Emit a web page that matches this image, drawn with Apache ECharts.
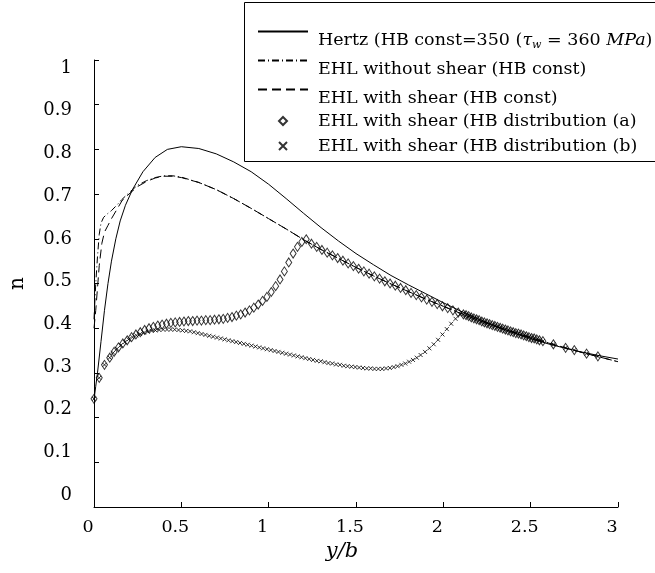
<!DOCTYPE html>
<html>
<head>
<meta charset="utf-8">
<script src="https://cdn.jsdelivr.net/npm/echarts@6/dist/echarts.min.js"></script>
<style>
html,body{margin:0;padding:0;background:#fff;}
#chart{width:655px;height:573px;}
</style>
</head>
<body>
<div id="chart"></div>
<script>
// ---- data ----
const hertzX = [0,0.01,0.02,0.04,0.06,0.08,0.10,0.125,0.15,0.18,0.22,0.28,0.35,0.42,0.5,0.6,0.7,0.8,0.9,1.0,1.1,1.2,1.3,1.4,1.5,1.6,1.7,1.8,1.9,2.0,2.1,2.2,2.3,2.4,2.5,2.6,2.7,2.8,2.9,3.0];
const hertzY = [0.24,0.27,0.30,0.37,0.44,0.50,0.55,0.60,0.64,0.675,0.71,0.75,0.782,0.80,0.806,0.802,0.79,0.772,0.75,0.722,0.69,0.657,0.625,0.595,0.567,0.542,0.518,0.497,0.477,0.457,0.438,0.421,0.405,0.39,0.377,0.365,0.355,0.346,0.338,0.331];

const noShearX = [0,0.01,0.02,0.03,0.04,0.055,0.08,0.10,0.13,0.16,0.2,0.25,0.3,0.35,0.4,0.45,0.5,0.6,0.7,0.8,0.9,1.0,1.1,1.2,1.3,1.4,1.5,1.6,1.7,1.8,1.9,2.0,2.1,2.2,2.3,2.4,2.5,2.6,2.7,2.8,2.9,3.0];
const noShearY = [0.42,0.50,0.56,0.61,0.635,0.648,0.657,0.663,0.675,0.688,0.703,0.72,0.73,0.737,0.741,0.741,0.738,0.726,0.71,0.69,0.668,0.645,0.622,0.598,0.576,0.556,0.536,0.517,0.499,0.482,0.465,0.449,0.433,0.418,0.404,0.391,0.379,0.367,0.356,0.345,0.335,0.325];

const shearX = [0,0.01,0.02,0.03,0.045,0.06,0.08,0.10,0.13,0.16,0.2,0.25,0.3,0.35,0.4,0.45,0.5,0.6,0.7,0.8,0.9,1.0,1.1,1.2,1.3,1.4,1.5,1.6,1.7,1.8,1.9,2.0,2.1,2.2,2.3,2.4,2.5,2.6,2.7,2.8,2.9,3.0];
const shearY = [0.40,0.44,0.49,0.54,0.59,0.615,0.63,0.645,0.665,0.685,0.70,0.717,0.728,0.736,0.74,0.74,0.737,0.726,0.71,0.69,0.668,0.645,0.622,0.598,0.576,0.556,0.536,0.517,0.499,0.482,0.465,0.449,0.433,0.418,0.404,0.391,0.379,0.367,0.356,0.345,0.335,0.325];

// distribution (a): diamonds
const distAX = [0,0.03,0.06,0.09,0.115,0.14,0.165,0.19,0.215,0.24,0.265,0.29,0.315,0.34,0.365,0.39,0.415,0.44,0.465,0.49,0.515,0.54,0.565,0.59,0.615,0.64,0.665,0.69,0.715,0.74,0.765,0.79,0.815,0.84,0.865,0.89,0.915,0.94,0.965,0.99,1.015,1.04,1.065,1.09,1.115,1.14,1.165,1.19,1.215,
  1.245,1.275,1.305,1.335,1.365,1.395,1.425,1.455,1.485,1.515,1.545,1.575,1.605,1.635,1.665,1.695,1.725,1.755,1.785,1.815,1.845,1.875,1.905,1.935,1.965,1.995,2.025,2.055,2.085];
const distAY = [0.242,0.289,0.318,0.334,0.347,0.357,0.366,0.373,0.38,0.386,0.391,0.396,0.40,0.403,0.406,0.408,0.41,0.412,0.413,0.414,0.415,0.416,0.416,0.417,0.417,0.418,0.418,0.419,0.42,0.421,0.423,0.425,0.428,0.431,0.435,0.44,0.446,0.453,0.461,0.47,0.481,0.494,0.509,0.527,0.547,0.567,0.582,0.593,0.599,
  0.589,0.582,0.575,0.569,0.563,0.557,0.551,0.545,0.539,0.533,0.527,0.522,0.516,0.511,0.505,0.50,0.495,0.49,0.485,0.479,0.474,0.469,0.464,0.459,0.454,0.449,0.445,0.44,0.435];

// distribution (b): crosses
const distBX = [0,0.03,0.06,0.09,0.11,0.132,0.154,0.176,0.198,0.22,0.242,0.264,0.286,0.308,0.33,0.352,0.374,0.396,0.418,0.44,0.462,0.484,0.506,0.528,0.55,0.572,0.594,0.616,0.638,0.66,0.682,0.704,0.726,0.748,0.77,0.792,0.814,0.836,0.858,0.88,0.902,0.924,0.946,0.968,0.99,1.012,1.034,1.056,1.078,1.1,1.122,1.144,1.166,1.188,1.21,1.232,1.254,1.276,1.298,1.32,1.342,1.364,1.386,1.408,1.43,1.452,1.474,1.496,1.518,1.54,1.562,1.584,1.606,1.628,1.65,1.672,1.694,1.716,1.738,1.76,1.782,1.804,1.826,1.848,1.87,1.895,1.92,1.945,1.97,1.995,2.02,2.045,2.07,2.095];
const distBY = [0.242,0.289,0.318,0.334,0.345,0.354,0.362,0.369,0.375,0.38,0.384,0.387,0.39,0.392,0.394,0.395,0.396,0.397,0.397,0.397,0.397,0.396,0.395,0.394,0.393,0.391,0.389,0.387,0.385,0.383,0.381,0.379,0.377,0.375,0.373,0.371,0.369,0.367,0.365,0.363,0.361,0.359,0.357,0.355,0.353,0.351,0.349,0.347,0.345,0.343,0.341,0.339,0.337,0.335,0.333,0.331,0.329,0.327,0.326,0.324,0.322,0.321,0.319,0.318,0.316,0.315,0.314,0.313,0.312,0.311,0.31,0.31,0.309,0.309,0.309,0.31,0.311,0.313,0.315,0.318,0.321,0.325,0.329,0.334,0.34,0.347,0.355,0.364,0.374,0.386,0.398,0.41,0.421,0.431];

// shared tail of both distributions (markers coincide)
const tailX = [2.115,2.13,2.145,2.16,2.175,2.19,2.205,2.22,2.235,2.25,2.265,2.28,2.295,2.31,2.325,2.34,2.355,2.37,2.385,2.4,2.415,2.43,2.445,2.46,2.475,2.49,2.505,2.52,2.535,2.55,2.57,2.63,2.70,2.75,2.82,2.885];
const tailY = [0.431,0.429,0.427,0.424,0.422,0.42,0.418,0.415,0.413,0.411,0.409,0.407,0.405,0.403,0.401,0.399,0.397,0.395,0.393,0.391,0.389,0.388,0.386,0.384,0.382,0.38,0.378,0.377,0.375,0.373,0.371,0.364,0.356,0.351,0.343,0.337];

const yTickValues = [0,0.1,0.2,0.3,0.4,0.5,0.6,0.7,0.8,0.9,1];
const yTickLabels = ['0','0.1','0.2','0.3','0.4','0.5','0.6','0.7','0.8','0.9','1'];

const names = [
  'Hertz (HB const=350 (τw = 360 MPa)',
  'EHL without shear (HB const)',
  'EHL with shear (HB const)',
  'EHL with shear (HB distribution (a)',
  'EHL with shear (HB distribution (b)'
];

const zip = (xs, ys) => xs.map((x, i) => [x, ys[i]]);

const FONT = 'DejaVu Serif';
const black = '#000';
const crossPath = 'path://M0,0L10,10M10,0L0,10';
const LFS = 17.5;

const richStyles = {
  n: {fontFamily: FONT, fontSize: LFS, color: black},
  i: {fontFamily: FONT, fontSize: LFS, fontStyle: 'italic', color: black},
  s: {fontFamily: FONT, fontSize: 11, fontStyle: 'italic', color: black, padding: [10, 0, 0, 0]}
};
function legendFormatter(name) {
  if (name === names[0]) {
    return '{n|Hertz (HB const=350 (}{i|τ}{s|w}{n| = 360 }{i|MPa}{n|)}';
  }
  return '{n|' + name + '}';
}

function mkLegend(idx, top, isLine) {
  return {
    data: [names[idx]],
    left: isLine ? 257 : 278,
    top: top,
    orient: 'vertical',
    itemWidth: isLine ? 50 : 8,
    itemHeight: isLine ? 14 : 8,
    selectedMode: false,
    padding: 0,
    z: 6,
    itemStyle: isLine ? {opacity: 0} : {},
    formatter: legendFormatter,
    textStyle: {
      fontFamily: FONT, fontSize: LFS, color: black,
      padding: isLine ? [18, 0, 0, 5] : [0, 0, 0, 26],
      rich: richStyles
    }
  };
}

const chart = echarts.init(document.getElementById('chart'), null, {renderer: 'canvas'});
chart.setOption({
  animation: false,
  backgroundColor: '#fff',
  grid: {left: 91, right: 37, top: 60, bottom: 66, containLabel: false},
  xAxis: {
    type: 'value', min: 0, max: 3, interval: 0.5,
    name: 'y/b', nameLocation: 'middle', nameGap: 34,
    nameTextStyle: {fontFamily: FONT, fontSize: 21, fontStyle: 'italic', color: black, padding: [0, 28, 0, 0]},
    axisLine: {show: true, lineStyle: {color: black, width: 1}},
    axisTick: {show: true, inside: true, length: 5, lineStyle: {color: black}},
    splitLine: {show: false},
    axisLabel: {fontFamily: FONT, fontSize: 17.5, color: black, margin: 11, padding: [0, 12, 0, 0],
      formatter: v => String(+v.toFixed(2))}
  },
  yAxis: [{
    type: 'value', min: 0, max: 1, interval: 0.1,
    name: 'n', nameLocation: 'middle', nameGap: 66, nameRotate: 90,
    nameTextStyle: {fontFamily: FONT, fontSize: 20, color: black},
    axisLine: {show: true, lineStyle: {color: black, width: 1}},
    axisTick: {show: true, inside: true, length: 5, lineStyle: {color: black}},
    splitLine: {show: false},
    axisLabel: {show: false}
  }, {
    type: 'value', min: -0.028, max: 1.019, position: 'left', offset: 0,
    axisLine: {show: false}, axisTick: {show: false}, splitLine: {show: false},
    axisLabel: {
      show: true, customValues: yTickValues, margin: 22,
      fontFamily: FONT, fontSize: 18, color: black,
      formatter: v => yTickLabels[yTickValues.findIndex(t => Math.abs(t - v) < 1e-6)] ?? ''
    }
  }],
  legend: [
    mkLegend(0, 26, true),
    mkLegend(1, 55, true),
    mkLegend(2, 84, true),
    mkLegend(3, 112, false),
    mkLegend(4, 137, false)
  ],
  graphic: [{
    type: 'rect', z: 5, silent: true,
    shape: {x: 244.5, y: 2.5, width: 430, height: 159},
    style: {fill: '#fff', stroke: black, lineWidth: 1}
  }],
  series: [{
    name: names[0], type: 'line', data: zip(hertzX, hertzY), showSymbol: false, symbol: 'none',
    lineStyle: {color: black, width: 1, type: 'solid'}, itemStyle: {color: black}, z: 2
  }, {
    name: names[1], type: 'line', data: zip(noShearX, noShearY), showSymbol: false, symbol: 'none',
    lineStyle: {color: black, width: 1, type: [7, 3, 1, 3]}, itemStyle: {color: black}, z: 2
  }, {
    name: names[2], type: 'line', data: zip(shearX, shearY), showSymbol: false, symbol: 'none',
    lineStyle: {color: black, width: 1, type: [9, 5]}, itemStyle: {color: black}, z: 2
  }, {
    name: names[3], type: 'scatter', data: zip(distAX.concat(tailX), distAY.concat(tailY)),
    symbol: 'diamond', symbolSize: [6, 9],
    itemStyle: {color: 'rgba(255,255,255,0)', borderColor: black, borderWidth: 1}, z: 3
  }, {
    name: names[4], type: 'scatter', data: zip(distBX.concat(tailX), distBY.concat(tailY)),
    symbol: crossPath, symbolSize: 4,
    itemStyle: {color: 'rgba(255,255,255,0)', borderColor: black, borderWidth: 1}, z: 3
  }]
});
</script>
</body>
</html>
